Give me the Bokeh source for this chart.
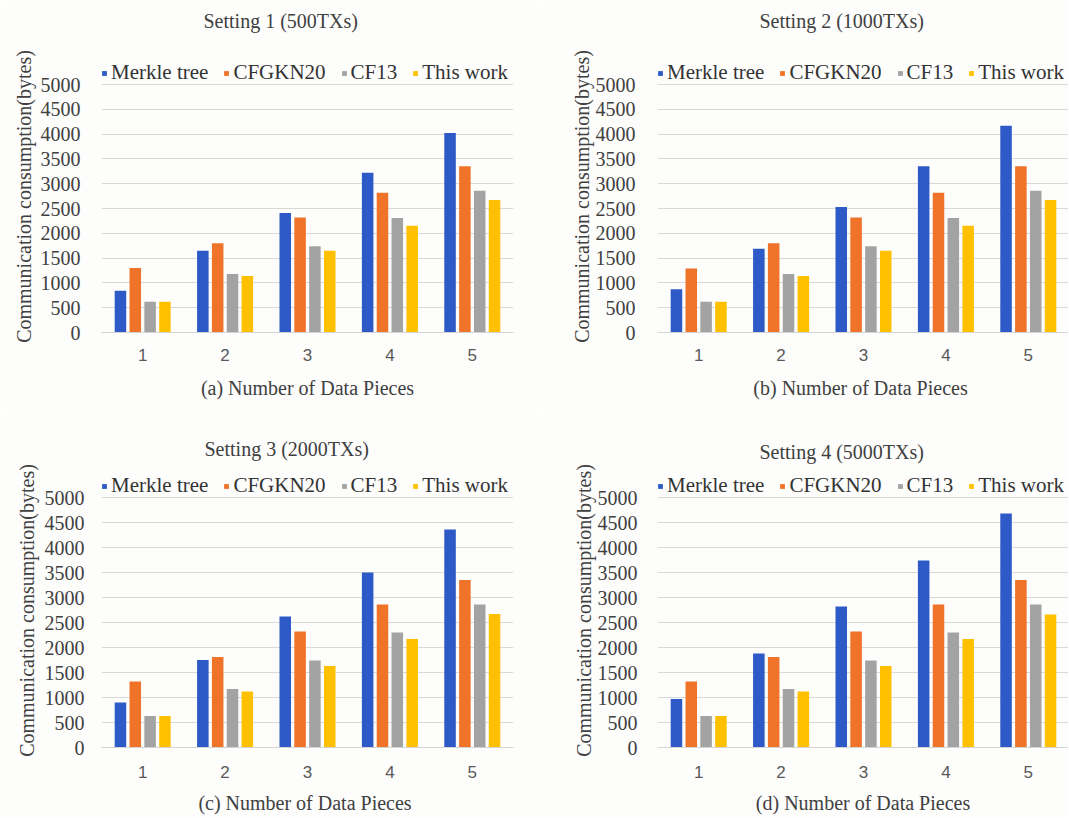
from bokeh.plotting import figure
from bokeh.models import ColumnDataSource, Range1d, Legend, LegendItem, Title
from bokeh.transform import dodge
from bokeh.layouts import row, column
from bokeh.embed import file_html
from bokeh.resources import INLINE

# ---------------- data ----------------
pieces = [1, 2, 3, 4, 5]
series_names = ["Merkle tree", "CFGKN20", "CF13", "This work"]
series_colors = ["#2d5ac6", "#ef7329", "#a3a3a3", "#ffc000"]
y_ticks = [0, 500, 1000, 1500, 2000, 2500, 3000, 3500, 4000, 4500, 5000]

panel_titles = ["Setting 1 (500TXs)", "Setting 2 (1000TXs)",
                "Setting 3 (2000TXs)", "Setting 4 (5000TXs)"]
x_titles = ["(a) Number of Data Pieces", "(b) Number of  Data Pieces",
            "(c) Number of  Data Pieces", "(d) Number of Data Pieces"]
y_title = "Communication consumption(bytes)"

merkle_500 = [840, 1650, 2410, 3220, 4020]
cfgkn20_500 = [1300, 1800, 2320, 2820, 3350]
cf13_500 = [620, 1180, 1740, 2310, 2860]
thiswork_500 = [620, 1140, 1650, 2150, 2670]

merkle_1000 = [870, 1690, 2530, 3350, 4170]
cfgkn20_1000 = [1290, 1800, 2320, 2820, 3350]
cf13_1000 = [620, 1180, 1740, 2310, 2860]
thiswork_1000 = [620, 1140, 1650, 2150, 2670]

merkle_2000 = [900, 1750, 2620, 3500, 4360]
cfgkn20_2000 = [1320, 1810, 2320, 2860, 3350]
cf13_2000 = [630, 1170, 1740, 2300, 2860]
thiswork_2000 = [630, 1120, 1630, 2170, 2670]

merkle_5000 = [970, 1880, 2820, 3740, 4680]
cfgkn20_5000 = [1320, 1810, 2320, 2860, 3350]
cf13_5000 = [630, 1170, 1740, 2300, 2860]
thiswork_5000 = [630, 1120, 1630, 2170, 2660]

settings = [
    [merkle_500, cfgkn20_500, cf13_500, thiswork_500],
    [merkle_1000, cfgkn20_1000, cf13_1000, thiswork_1000],
    [merkle_2000, cfgkn20_2000, cf13_2000, thiswork_2000],
    [merkle_5000, cfgkn20_5000, cf13_5000, thiswork_5000],
]

# ---------------- styling ----------------
SERIF = "Liberation Serif"
SANS = "Liberation Sans"
TXT = "#404040"
BG = "#fdfdfc"
PX_PER_UNIT = 82.4
offsets = [-0.27, -0.09, 0.09, 0.27]
BAR_W = 0.14
LEGEND_ROOM = 24  # px reserved above the 5000 line for the legend


def make_panel(idx, width, height, mbl, mbr, mbt, mbb, title_dx, gap,
               ylab_standoff, ytick_standoff, xtick_standoff, xlab_standoff):
    frame_w = width - mbl - mbr
    frame_h = height - mbt - mbb
    x_end = 0.5 + frame_w / PX_PER_UNIT
    px_per_val = (frame_h - LEGEND_ROOM) / 5000.0
    y_top = 5000 + LEGEND_ROOM / px_per_val
    p = figure(width=width, height=height,
               x_range=Range1d(0.5, x_end), y_range=Range1d(0, y_top),
               output_backend="svg", toolbar_location=None,
               min_border_left=mbl, min_border_right=mbr,
               min_border_top=mbt, min_border_bottom=mbb,
               background_fill_color=BG, border_fill_color=BG,
               outline_line_color=None)

    data = {"x": pieces}
    for name, vals in zip(series_names, settings[idx]):
        data[name] = vals
    src = ColumnDataSource(data)

    items = []
    for name, color, off in zip(series_names, series_colors, offsets):
        r = p.vbar(x=dodge("x", off), top=name, width=BAR_W, source=src,
                   fill_color=color, line_color=None)
        items.append(LegendItem(label=name, renderers=[r]))

    legend = Legend(items=items, orientation="horizontal",
                    location="top_left", padding=0, margin=0,
                    spacing=15, glyph_width=6, glyph_height=6,
                    label_standoff=4, label_height=24, label_text_font=SERIF,
                    label_text_font_size="21px", label_text_color="#333333",
                    background_fill_alpha=0, border_line_color=None)
    p.add_layout(legend)

    # spacer between the frame and the title
    p.add_layout(Title(text=" ", text_font_size="8px", standoff=gap), "above")

    p.title.text = panel_titles[idx]
    p.title.align = "left"
    p.title.offset = title_dx
    p.title.standoff = 0
    p.title.text_font = SERIF
    p.title.text_font_size = "20px"
    p.title.text_font_style = "normal"
    p.title.text_color = TXT

    # x axis
    xa = p.xaxis[0]
    xa.ticker = pieces
    xa.major_tick_line_color = None
    xa.minor_tick_line_color = None
    xa.axis_line_color = "#d4d4d4"
    xa.major_label_text_font = SANS
    xa.major_label_text_font_size = "17px"
    xa.major_label_text_color = "#595959"
    xa.major_label_standoff = xtick_standoff
    xa.axis_label = x_titles[idx]
    xa.axis_label_text_font = SERIF
    xa.axis_label_text_font_size = "20px"
    xa.axis_label_text_font_style = "normal"
    xa.axis_label_text_color = TXT
    xa.axis_label_standoff = xlab_standoff

    # y axis
    ya = p.yaxis[0]
    ya.ticker = y_ticks
    ya.major_tick_out = 0
    ya.major_tick_in = 0
    ya.minor_tick_out = 0
    ya.minor_tick_in = 0
    ya.major_tick_line_color = None
    ya.minor_tick_line_color = None
    ya.axis_line_color = None
    ya.major_label_text_font = SERIF
    ya.major_label_text_font_size = "20px"
    ya.major_label_text_color = TXT
    ya.major_label_standoff = ytick_standoff
    ya.axis_label = y_title
    ya.axis_label_text_font = SERIF
    ya.axis_label_text_font_size = "20px"
    ya.axis_label_text_font_style = "normal"
    ya.axis_label_text_color = TXT
    ya.axis_label_standoff = ylab_standoff

    p.xgrid.visible = False
    p.ygrid.ticker = y_ticks
    p.ygrid.grid_line_color = "#d9d9d9"
    p.ygrid.grid_line_width = 1
    return p


pa = make_panel(0, 540, 410, 101, 27, 60, 78, 102, 18, 3, 21, 10, 13)
pb = make_panel(1, 528, 410, 117, 0, 60, 78, 102, 18, 0, 22, 10, 13)
pc = make_panel(2, 540, 407, 101, 27, 63, 70, 103, 3, 4, 17, 12, 11)
pd = make_panel(3, 528, 407, 117, 0, 63, 70, 102, 0, 0, 20, 12, 11)

layout = column(row(pa, pb), row(pc, pd))

open("out.html", "w").write(file_html(layout, INLINE))
